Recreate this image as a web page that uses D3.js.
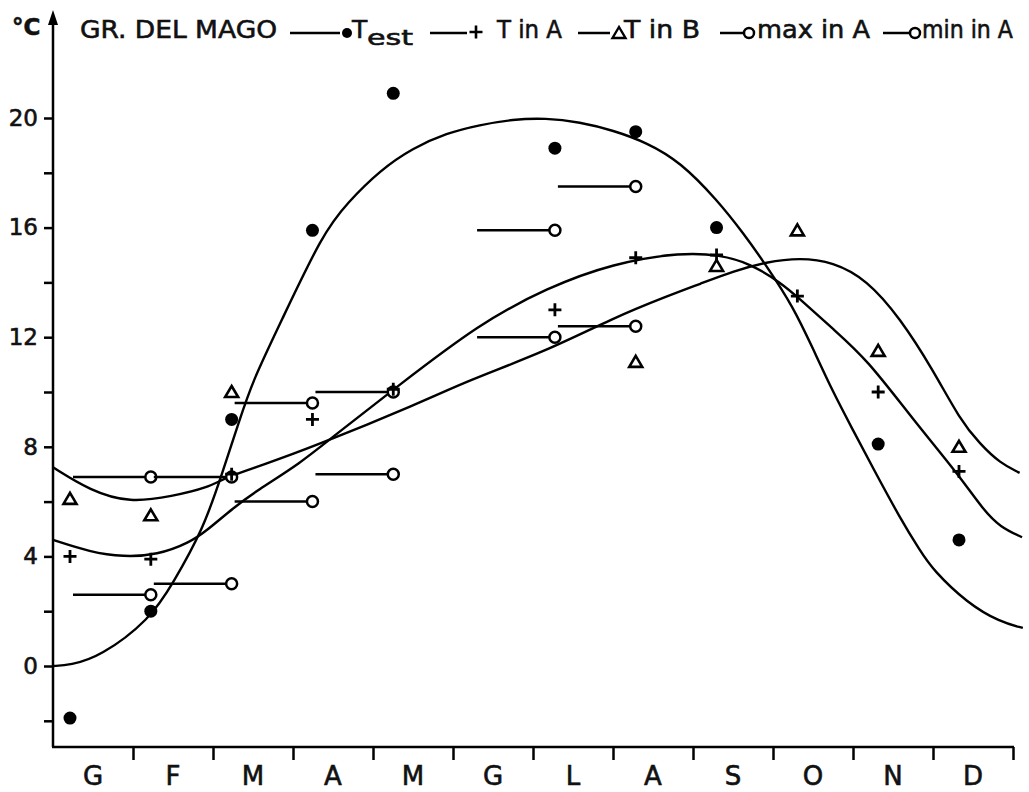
<!DOCTYPE html>
<html><head><meta charset="utf-8">
<script src="https://cdn.jsdelivr.net/npm/d3@7"></script>
<style>html,body{margin:0;padding:0;background:#fff;} svg{display:block;} text{stroke:#111;stroke-width:0.6px;}</style>
</head><body><svg id="c" width="1029" height="792"></svg>
<script>
// ---------- DATA ----------
const months = ["G","F","M","A","M","G","L","A","S","O","N","D"];
const yTickValues = [-2,0,2,4,6,8,10,12,14,16,18,20];
const yLabelValues = [0,4,8,12,16,20];

// point series (month index 0..11), null = no point
const tEst   = [-1.9, 2.0, 9.0, 15.9, 20.9, null, 18.9, 19.5, 16.0, null, 8.1, 4.6];
const tInA   = [4.0, 3.9, 7.0, 9.0, 10.1, null, 13.0, 14.9, 15.0, 13.5, 10.0, 7.1];
const tInB   = [6.1, 5.5, 10.0, null, null, null, null, 11.1, 14.6, 15.9, 11.5, 8.0];
const maxInA = [null, 6.9, 6.9, 9.6, 10.0, null, 15.9, 17.5, null, null, null, null];
const minInA = [null, 2.6, 3.0, 6.0, 7.0, null, 12.0, 12.4, null, null, null, null];

// fitted curves: [month position, °C]
const fitTest = [[-0.21,0],[0,0.03],[0.37,0.33],[0.99,1.7],[1.27,3.0],[1.65,5.0],[1.88,7.0],[2.10,9.0],[2.26,10.4],[2.60,12.5],[3.13,15.8],[3.43,16.9],[3.84,18.1],[4.24,18.9],[4.66,19.45],[5.07,19.75],[5.48,19.95],[5.88,20.0],[6.31,19.85],[6.72,19.55],[7.14,19.1],[7.55,18.4],[8.01,17.0],[8.33,15.8],[8.62,14.6],[8.95,13.1],[9.19,11.6],[9.44,10.0],[9.69,8.6],[9.94,7.2],[10.27,5.4],[10.52,4.2],[10.68,3.5],[11.10,2.3],[11.51,1.6],[11.79,1.39]];
const fitTinA = [[-0.21,4.6],[0.25,4.16],[0.66,3.98],[1.08,4.05],[1.48,4.5],[1.70,4.96],[2.02,5.77],[2.31,6.4],[2.85,7.4],[3.25,8.36],[4.05,10.2],[5.07,12.5],[5.90,13.8],[6.72,14.7],[7.58,15.1],[8.04,15.0],[8.41,14.7],[8.79,14.0],[9.03,13.4],[9.44,12.3],[9.86,11.2],[10.43,9.0],[10.99,7.0],[11.30,5.7],[11.51,5.07],[11.78,4.7]];
const fitTinB = [[-0.21,7.25],[0.25,6.4],[0.74,5.95],[1.27,6.2],[1.70,6.5],[1.94,6.9],[2.35,7.3],[3.01,8.0],[4.33,9.6],[4.91,10.4],[5.90,11.5],[6.72,12.7],[7.39,13.5],[7.80,13.95],[8.20,14.4],[8.62,14.75],[9.03,14.9],[9.44,14.75],[9.86,14.1],[10.27,12.7],[10.68,10.8],[11.01,9.0],[11.26,8.1],[11.51,7.4],[11.75,7.05]];

// ---------- DRAW ----------
const FONT = "'DejaVu Sans',sans-serif";
const svg = d3.select("#c");
svg.append("rect").attr("width",1029).attr("height",792).attr("fill","#fff");

const xm = d3.scaleLinear().domain([0,11]).range([70,959]);     // data points
const xa = d3.scaleLinear().domain([0,12]).range([53,1013]);    // month axis
const y  = d3.scaleLinear().domain([0,20]).range([666,118]);

const SW = 2.5;

// y axis
const yAx = svg.append("g").attr("transform","translate(53,0)")
  .call(d3.axisLeft(y).tickValues(yTickValues).tickSize(9).tickPadding(6)
        .tickFormat(d => yLabelValues.includes(d) ? d : ""));
yAx.select(".domain").remove();
yAx.selectAll("line").attr("stroke","#000").attr("stroke-width",SW);
yAx.selectAll("text").attr("font-family",FONT).attr("font-size",23).attr("fill","#111");
svg.append("line").attr("x1",53).attr("x2",53).attr("y1",747).attr("y2",18)
  .attr("stroke","#000").attr("stroke-width",SW);
svg.append("path").attr("d","M53,10 L48,25 L58,25 Z").attr("fill","#000");

// x axis
const xAx = svg.append("g").attr("transform","translate(0,747)")
  .call(d3.axisBottom(xa).tickValues(d3.range(1,13)).tickSize(13).tickFormat(""));
xAx.select(".domain").remove();
xAx.selectAll("line").attr("stroke","#000").attr("stroke-width",SW);
svg.append("line").attr("x1",52).attr("x2",xa(12)+1).attr("y1",747).attr("y2",747)
  .attr("stroke","#000").attr("stroke-width",SW);
svg.append("g").selectAll("text").data(months).join("text")
  .attr("x",(d,i)=>xa(i+0.5)).attr("y",785).attr("text-anchor","middle")
  .attr("font-family",FONT).attr("font-size",26).attr("fill","#111").text(d=>d);

// curves
const line = d3.line().x(d=>xm(d[0])).y(d=>y(d[1])).curve(d3.curveBasis);
[fitTest, fitTinA, fitTinB].forEach(c => {
  svg.append("path").attr("d",line(c)).attr("fill","none")
    .attr("stroke","#000").attr("stroke-width",2.4);
});

// max/min segments
function segs(arr){
  const g = svg.append("g");
  arr.forEach((v,i)=>{
    if(v==null) return;
    g.append("line").attr("x1",xm(i-1)+3).attr("x2",xm(i)-5)
      .attr("y1",y(v)).attr("y2",y(v)).attr("stroke","#000").attr("stroke-width",SW);
    g.append("circle").attr("cx",xm(i)).attr("cy",y(v)).attr("r",5.5)
      .attr("fill","#fff").attr("stroke","#000").attr("stroke-width",SW);
  });
}
segs(maxInA); segs(minInA);

// markers
const triPath = "M0,-6L6.5,5L-6.5,5Z";
const plusPath = "M-6.5,0H6.5M0,-6.5V6.5";
tEst.forEach((v,i)=>{ if(v==null) return;
  svg.append("circle").attr("cx",xm(i)).attr("cy",y(v)).attr("r",6.5).attr("fill","#000");});
tInA.forEach((v,i)=>{ if(v==null) return;
  svg.append("path").attr("d",plusPath).attr("transform",`translate(${xm(i)},${y(v)})`)
    .attr("stroke","#000").attr("stroke-width",2.8).attr("fill","none");});
tInB.forEach((v,i)=>{ if(v==null) return;
  svg.append("path").attr("d",triPath).attr("transform",`translate(${xm(i)},${y(v)})`)
    .attr("stroke","#000").attr("stroke-width",2.6).attr("fill","#fff");});

// ---------- LEGEND / TITLE ----------
const T = (x,yy,s,fs,w) => {
  const t = svg.append("text").attr("x",x).attr("y",yy)
    .attr("font-family",FONT).attr("font-size",fs).attr("fill","#111").text(s);
  if (w) t.attr("textLength",w).attr("lengthAdjust","spacingAndGlyphs");
  return t;
};
T(12,35,"°C",23).attr("font-weight","bold");
T(80,38,"GR. DEL MAGO",25,197);
const LY = 33;
const L = (x1,x2) => svg.append("line").attr("x1",x1).attr("x2",x2).attr("y1",LY).attr("y2",LY)
  .attr("stroke","#000").attr("stroke-width",SW);
L(290,340); svg.append("circle").attr("cx",347).attr("cy",LY).attr("r",5).attr("fill","#000");
T(352,38,"T",25); T(367,45,"est",21,46);
L(430,467); svg.append("path").attr("d",plusPath).attr("transform",`translate(476,${LY-1})`)
  .attr("stroke","#000").attr("stroke-width",2.6);
T(497,38,"T in A",25,65);
L(578,610); svg.append("path").attr("d",triPath).attr("transform",`translate(619,${LY})`)
  .attr("stroke","#000").attr("stroke-width",2.4).attr("fill","#fff");
T(624,38,"T in B",25,76);
L(720,744); svg.append("circle").attr("cx",749).attr("cy",LY).attr("r",5).attr("fill","#fff")
  .attr("stroke","#000").attr("stroke-width",SW);
T(757,38,"max in A",25,113);
L(883,910); svg.append("circle").attr("cx",915).attr("cy",LY).attr("r",5).attr("fill","#fff")
  .attr("stroke","#000").attr("stroke-width",SW);
T(922,38,"min in A",25,91);
</script></body></html>
